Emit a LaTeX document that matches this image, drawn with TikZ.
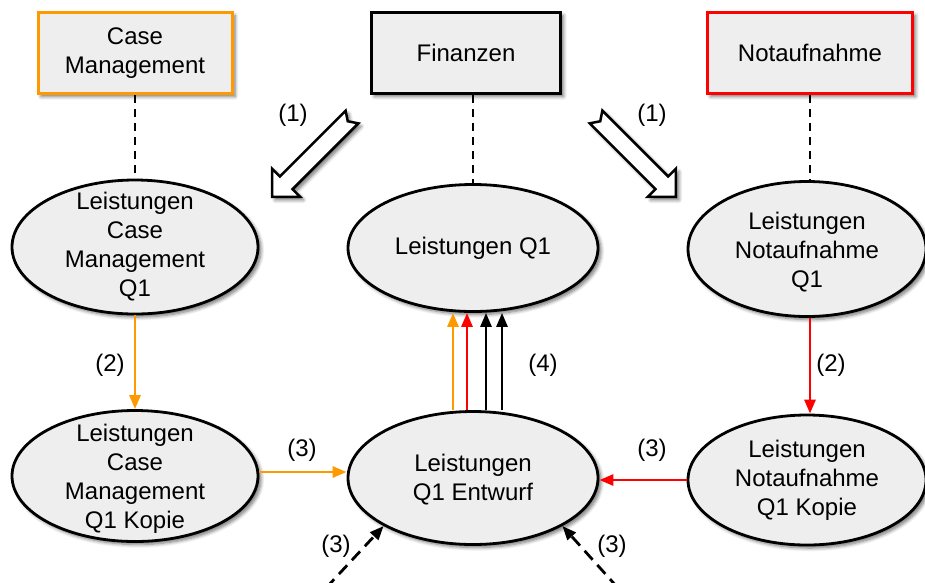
\documentclass[tikz,border=0pt]{standalone}
\usepackage{fontspec}
\setmainfont{Liberation Sans}
\usetikzlibrary{shapes.geometric,arrows.meta,shadows.blur}
\definecolor{boxfill}{HTML}{EEEEEE}
\definecolor{caseorange}{HTML}{FF9900}
\definecolor{alertred}{HTML}{FF0000}

\begin{document}
\begin{tikzpicture}[x=1pt,y=-1pt,
  every node/.style={font=\fontsize{24}{29}\selectfont},
  softshadow/.style={blur shadow={shadow xshift=3pt,shadow yshift=-3pt,shadow blur steps=6,shadow opacity=55,shadow blur radius=3.5pt}},
  unit/.style={rectangle,draw,fill=boxfill,line width=3pt,softshadow,inner sep=0pt,align=center},
  blob/.style={ellipse,draw=black,fill=boxfill,line width=2.8pt,softshadow,inner sep=0pt},
  txt/.style={align=center},
  link/.style={line width=2.8pt,dash pattern=on 8pt off 6pt},
  flow/.style={line width=2.8pt,-{Triangle[length=14pt,width=11pt]}},
  hollow/.style={line width=2.5pt,fill=white,line join=miter,softshadow}
]
\useasboundingbox (0,0) rectangle (925,582);

% organisational units
\node[unit,draw=caseorange,minimum width=194pt,minimum height=81pt] (cmbox) at (135,53) {Case\\Management};
\node[unit,draw=black,minimum width=189pt,minimum height=81pt] (finbox) at (466,53) {Finanzen};
\node[unit,draw=alertred,minimum width=205pt,minimum height=81pt] (nabox) at (810,53) {Notaufnahme};

% data sets
\node[blob,minimum width=246pt,minimum height=134pt] (cmq) at (135,247) {};
\node[txt] at (cmq) {Leistungen\\Case\\Management\\Q1};
\node[blob,minimum width=250pt,minimum height=127pt] (lq) at (473,248) {};
\node[txt] at (lq) {Leistungen Q1};
\node[blob,minimum width=238pt,minimum height=135pt] (naq) at (807,249) {};
\node[txt] at ([yshift=-3pt]naq.center) {Leistungen\\Notaufnahme\\Q1};

\node[blob,minimum width=246pt,minimum height=131pt] (cmk) at (135,476) {};
\node[txt] at ([yshift=-3pt]cmk.center) {Leistungen\\Case\\Management\\Q1 Kopie};
\node[blob,minimum width=250pt,minimum height=133pt] (entw) at (473,478) {};
\node[txt] at ([yshift=-2pt]entw.center) {Leistungen\\Q1 Entwurf};
\node[blob,minimum width=238pt,minimum height=130pt] (nak) at (807,480) {};
\node[txt] at (nak) {Leistungen\\Notaufnahme\\Q1 Kopie};

% ownership links
\draw[link] (cmbox.south) -- (cmq.north);
\draw[link] (finbox.south -| lq.north) -- (lq.north);
\draw[link] (nabox.south) -- (nabox.south |- naq.north);

% step (1): hollow arrows
\begin{scope}[shift={(352,117)},rotate=225]
  \draw[hollow] (0pt,9pt) -- (93pt,9pt) -- (93pt,20pt) -- (113pt,0pt) -- (93pt,-20pt) -- (93pt,-9pt) -- (0pt,-9pt) -- (6pt,0pt) -- cycle;
\end{scope}
\begin{scope}[shift={(596,117)},rotate=315]
  \draw[hollow] (0pt,9pt) -- (93pt,9pt) -- (93pt,20pt) -- (113pt,0pt) -- (93pt,-20pt) -- (93pt,-9pt) -- (0pt,-9pt) -- (6pt,0pt) -- cycle;
\end{scope}

% step (2): copies
\draw[flow,caseorange] (cmq.south) -- (cmk.north);
\draw[flow,alertred] ([xshift=3pt]naq.south) -- ([xshift=3pt]naq.south |- nak.north);

% step (3): merge into draft
\draw[flow,caseorange] ([yshift=4pt]cmk.east) -- ([yshift=4pt]cmk.east -| entw.west);
\draw[flow,alertred] (nak.west) -- (nak.west -| entw.east);
\coordinate (srcl) at (326,588);
\coordinate (srcr) at (618,588);
\draw[flow,dash pattern=on 12pt off 7pt] (srcl) -- (entw.south west);
\draw[flow,dash pattern=on 12pt off 7pt] (srcr) -- (entw.south east);

% step (4): publish
\draw[flow,caseorange] ([xshift=-20pt]entw.north) -- ([xshift=-20pt]lq.south);
\draw[flow,alertred] ([xshift=-6pt]entw.north) -- ([xshift=-6pt]lq.south);
\draw[flow,black] ([xshift=13pt]entw.north) -- ([xshift=13pt]lq.south);
\draw[flow,black] ([xshift=29pt]entw.north) -- ([xshift=29pt]lq.south);

% step labels
\node (s1a) at (293,115) {(1)};
\node (s1b) at (652,115) {(1)};
\node (s2a) at (110,365) {(2)};
\node (s2b) at (831,365) {(2)};
\node (s3a) at (302,450) {(3)};
\node (s3b) at (652,450) {(3)};
\node (s4) at (543,365) {(4)};
\node (s3c) at (336,546) {(3)};
\node (s3d) at (612,546) {(3)};
\end{tikzpicture}
\end{document}
